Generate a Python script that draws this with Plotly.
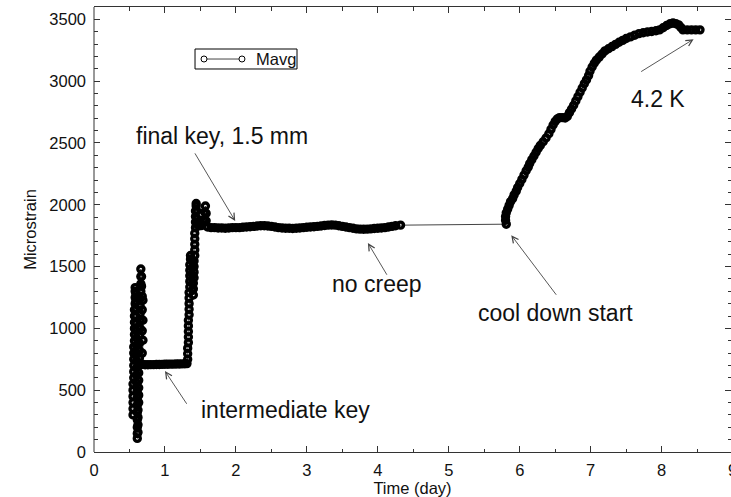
import plotly.graph_objects as go

# ---- data ----
# first loading (intermediate key), vertical oscillation near day 0.6
load1_day = [0.55, 0.55, 0.55, 0.55, 0.55, 0.55, 0.56, 0.56, 0.56, 0.56, 0.56, 0.56,
             0.57, 0.57, 0.57, 0.57, 0.57, 0.57, 0.58, 0.58, 0.58, 0.58,
             0.59, 0.59, 0.59, 0.59, 0.59, 0.59, 0.60, 0.60, 0.60, 0.60, 0.60, 0.60, 0.60,
             0.61, 0.61, 0.61, 0.61, 0.61, 0.61, 0.61, 0.61,
             0.62, 0.62, 0.62, 0.62, 0.63, 0.63, 0.63, 0.63, 0.63, 0.64, 0.64, 0.64, 0.64, 0.64,
             0.65, 0.65, 0.65, 0.65, 0.65, 0.66, 0.66, 0.66, 0.66,
             0.67, 0.67, 0.68, 0.69, 0.68, 0.69, 0.68, 0.69, 0.68, 0.68]
load1_strain = [300, 350, 400, 450, 500, 550, 600, 650, 700, 750, 800, 850,
                900, 950, 1000, 1050, 1100, 1150, 1200, 1250, 1300, 1330,
                1280, 1220, 1160, 1100, 1040, 980, 920, 860, 800, 740, 680, 620, 560,
                500, 440, 380, 320, 260, 200, 150, 110,
                160, 220, 280, 340, 400, 460, 520, 580, 640, 700, 760, 820, 880, 940,
                1000, 1060, 1120, 1180, 1240, 1300, 1360, 1420, 1480,
                1420, 1340, 1260, 1228, 1150, 1066, 980, 904, 800, 710]

# hold at intermediate key
hold1_day = [0.72, 0.76, 0.80, 0.84, 0.88, 0.92, 0.96, 1.00, 1.04, 1.08, 1.12, 1.16,
             1.20, 1.24, 1.28, 1.31]
hold1_strain = [706, 706, 707, 707, 708, 708, 709, 710, 710, 711, 711, 712,
                712, 713, 714, 715]

# second loading (final key)
load2_day = [1.32, 1.32, 1.32, 1.33, 1.33, 1.33, 1.33, 1.33, 1.34, 1.34, 1.34, 1.34,
             1.34, 1.35, 1.35, 1.35, 1.35, 1.35, 1.36, 1.36,
             1.38, 1.38, 1.39, 1.39, 1.39, 1.40,
             1.40, 1.40, 1.41, 1.41, 1.41, 1.41, 1.42, 1.42, 1.42, 1.42, 1.42,
             1.43, 1.43, 1.43, 1.43, 1.44, 1.44,
             1.45, 1.45, 1.46, 1.49, 1.52,
             1.55, 1.56, 1.57, 1.58, 1.58]
load2_strain = [750, 795, 840, 885, 930, 975, 1020, 1065, 1110, 1155, 1200, 1245,
                1290, 1335, 1380, 1425, 1470, 1515, 1560, 1590,
                1550, 1490, 1430, 1370, 1310, 1270,
                1320, 1365, 1410, 1455, 1500, 1545, 1590, 1635, 1680, 1725, 1770,
                1815, 1860, 1905, 1950, 1990, 2010,
                1950, 1890, 1840, 1830, 1832,
                1880, 1940, 1990, 1930, 1870]

# hold at final key (no creep)
hold2_day = [1.60, 1.65, 1.70, 1.75, 1.80, 1.85, 1.90, 1.95, 2.00, 2.05, 2.10, 2.15,
             2.20, 2.25, 2.30, 2.35, 2.40, 2.45, 2.50, 2.55, 2.60, 2.65, 2.70, 2.75,
             2.80, 2.85, 2.90, 2.95, 3.00, 3.05, 3.10, 3.15, 3.20, 3.25, 3.30, 3.35,
             3.40, 3.45, 3.50, 3.55, 3.60, 3.65, 3.70, 3.75, 3.80, 3.85, 3.90, 3.95,
             4.00, 4.05, 4.10, 4.15, 4.20, 4.25, 4.32]
hold2_strain = [1820, 1815, 1815, 1812, 1812, 1810, 1812, 1815, 1815, 1815, 1818, 1820,
                1822, 1825, 1828, 1830, 1830, 1828, 1825, 1820, 1815, 1812, 1810, 1810,
                1808, 1810, 1812, 1815, 1818, 1820, 1822, 1825, 1828, 1832, 1835, 1836,
                1835, 1830, 1825, 1820, 1815, 1810, 1805, 1803, 1802, 1803, 1805, 1808,
                1810, 1812, 1815, 1820, 1825, 1830, 1835]

# cool down to 4.2 K
cool_day = [5.81, 5.80, 5.80, 5.81, 5.83, 5.85, 5.87, 5.90, 5.92, 5.95, 5.97, 6.00,
            6.03, 6.06, 6.09, 6.12, 6.14, 6.17, 6.20, 6.23, 6.26, 6.29, 6.33, 6.37,
            6.41, 6.44, 6.47, 6.50, 6.53, 6.56, 6.60, 6.64, 6.67, 6.70, 6.73, 6.76,
            6.79, 6.82, 6.85, 6.88, 6.91, 6.94, 6.97, 6.99, 7.02, 7.05, 7.08, 7.12,
            7.16, 7.20, 7.25, 7.30, 7.35, 7.40, 7.45, 7.50, 7.56, 7.62, 7.68, 7.74,
            7.80, 7.86, 7.92, 7.97, 8.02, 8.07, 8.12, 8.16, 8.20, 8.24, 8.27, 8.30,
            8.36, 8.42, 8.48, 8.54]
cool_strain = [1843, 1875, 1905, 1935, 1965, 1995, 2025, 2050, 2080, 2110, 2140, 2172,
               2205, 2240, 2275, 2305, 2334, 2365, 2395, 2425, 2455, 2480, 2510, 2540,
               2575, 2610, 2645, 2675, 2695, 2705, 2705, 2702, 2715, 2745, 2775, 2805,
               2840, 2875, 2910, 2945, 2980, 3010, 3045, 3080, 3115, 3145, 3170, 3195,
               3220, 3245, 3262, 3280, 3298, 3315, 3330, 3345, 3358, 3372, 3385, 3392,
               3398, 3402, 3408, 3415, 3432, 3450, 3465, 3470, 3465, 3455, 3435, 3415,
               3415, 3415, 3415, 3415]

day = load1_day + hold1_day + load2_day + hold2_day + cool_day
strain = load1_strain + hold1_strain + load2_strain + hold2_strain + cool_strain

series_name = "Mavg"

# annotation texts and positions
labels = ["final key, 1.5 mm", "intermediate key", "no creep", "cool down start", "4.2 K"]
label_x = [1.81, 2.70, 3.99, 6.51, 7.95]
label_y = [2557, 337, 1360, 1126, 2857]
head_x = [1.99, 1.00, 3.86, 5.88, 8.45]
head_y = [1869, 655, 1691, 1754, 3340]
tail_x = [1.41, 1.32, 4.14, 6.53, 7.69]
tail_y = [2428, 378, 1422, 1260, 3070]

FONT = "Liberation Sans, Arial, Helvetica, sans-serif"
AX = "#333333"

fig = go.Figure()
fig.add_trace(go.Scatter(
    x=day, y=strain, mode="lines+markers", name=series_name, showlegend=False,
    line=dict(color="#444444", width=1),
    marker=dict(symbol="circle-open", size=6, color="black",
                line=dict(width=3.4, color="black")),
))

annotations = []
for t, lx, ly in zip(labels, label_x, label_y):
    annotations.append(dict(x=lx, y=ly, xref="x", yref="y", text=t, showarrow=False,
                            font=dict(family=FONT, size=23, color="#111111")))
for hx, hy, tx, ty in zip(head_x, head_y, tail_x, tail_y):
    annotations.append(dict(x=hx, y=hy, xref="x", yref="y", ax=tx, ay=ty,
                            axref="x", ayref="y", text="", showarrow=True,
                            arrowhead=5, arrowsize=1.4, arrowwidth=0.9,
                            arrowcolor="#444444", standoff=0, startstandoff=0))
# partially visible last x tick label (axis ends just beyond the page edge)
annotations.append(dict(x=1.0025, y=0, xref="paper", yref="paper", text="9",
                        showarrow=False, xanchor="center", yanchor="top", yshift=-7,
                        font=dict(family=FONT, size=16.5, color="#111111")))
# legend label
annotations.append(dict(x=0.2512, y=0.8831, xref="paper", yref="paper", text=series_name,
                        showarrow=False, xanchor="left", yanchor="middle",
                        font=dict(family=FONT, size=16.5, color="#111111")))

shapes = [
    # left axis line (right axis lies just beyond the page edge; only its ticks show)
    dict(type="line", xref="paper", yref="paper", x0=0, x1=0, y0=0, y1=1,
         line=dict(color=AX, width=1)),
    # legend box, sample line and sample markers
    dict(type="rect", xref="paper", yref="paper", x0=0.1586, x1=0.3187, y0=0.8607, y1=0.9056,
         line=dict(color="black", width=1), fillcolor="white", layer="above"),
    dict(type="line", xref="paper", yref="paper", x0=0.1774, x1=0.2276, y0=0.8831, y1=0.8831,
         line=dict(color="#444444", width=1), layer="above"),
    dict(type="circle", xref="paper", yref="paper", x0=0.1680, x1=0.1774, y0=0.8764, y1=0.8899,
         line=dict(color="black", width=1), fillcolor="white", layer="above"),
    dict(type="circle", xref="paper", yref="paper", x0=0.2276, x1=0.2370, y0=0.8764, y1=0.8899,
         line=dict(color="black", width=1), fillcolor="white", layer="above"),
]

tick_common = dict(
    ticks="inside", ticklen=6, tickwidth=1, tickcolor=AX,
    showgrid=False, zeroline=False, mirror="ticks",
    tickfont=dict(family=FONT, size=16.5, color="#111111"),
)

fig.update_layout(
    width=731, height=497,
    margin=dict(l=94, r=0, t=7, b=45),
    paper_bgcolor="white", plot_bgcolor="white",
    font=dict(family=FONT, color="#111111"),
    xaxis=dict(range=[0, 8.977], tick0=0, dtick=1, showline=True, linecolor=AX, linewidth=1,
               minor=dict(dtick=0.5, ticks="inside", ticklen=3.5, tickcolor=AX, showgrid=False),
               title=dict(text="Time (day)", font=dict(family=FONT, size=16.5), standoff=4),
               ticklabelstandoff=3,
               **tick_common),
    yaxis=dict(range=[0, 3600], tick0=0, dtick=500, showline=False,
               minor=dict(dtick=100, ticks="inside", ticklen=3.5, tickcolor=AX, showgrid=False),
               title=dict(text="Microstrain", font=dict(family=FONT, size=16.5), standoff=8),
               ticklabelstandoff=7,
               **tick_common),
    showlegend=False,
    annotations=annotations,
    shapes=shapes,
)

fig.write_html("out.html", config={"displayModeBar": False},
               post_script="document.body.style.margin='0px';document.body.style.overflow='hidden';")
